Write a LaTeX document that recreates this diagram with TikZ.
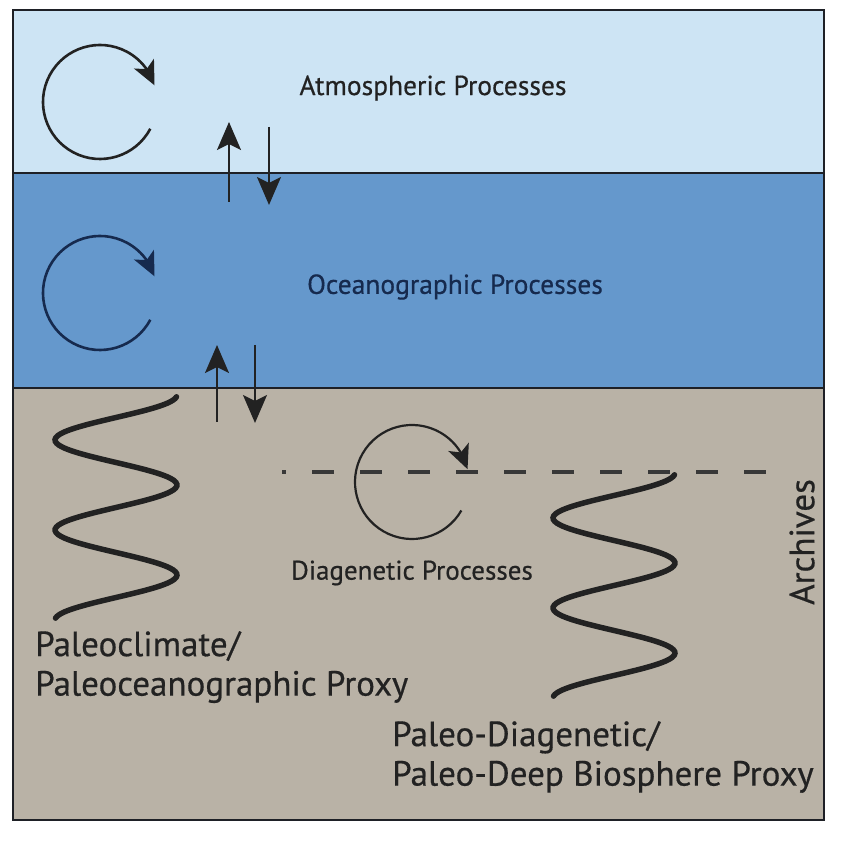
\documentclass[tikz,border=0pt]{standalone}
\usepackage{fontspec}
\setmainfont{PT Sans}[FakeBold=0.5]
\usetikzlibrary{arrows.meta,bending,positioning}
\definecolor{atmos}{RGB}{205,228,244}
\definecolor{ocean}{RGB}{101,152,204}
\definecolor{sed}{RGB}{185,178,166}
\definecolor{edge}{RGB}{30,32,38}
\definecolor{navy}{RGB}{22,42,78}
\definecolor{ink}{RGB}{34,34,34}

\begin{document}
\begin{tikzpicture}[x=1pt, y=1pt,
  lay/.style={draw=edge, line width=2pt},
  cyc/.style={line width=2.6pt, -{Stealth[length=24pt, width=22pt, inset=6pt]}},
  flux/.style={line width=2pt, -{Stealth[length=28pt, width=24pt, inset=6pt]}},
  wave/.style={ink, line width=5.5pt, line cap=round, smooth, samples=120},
  proc/.style={font=\fontsize{27.5}{32}\selectfont},
  proxy/.style={ink, font=\fontsize{35}{39.5}\selectfont, align=left, inner sep=0pt}]
  \useasboundingbox (0,0) rectangle (847,841);
  \fill [sed] (13,21) rectangle (824,453);
  \fill [ocean] (13,453) rectangle (824,668);
  \fill [atmos] (13,668) rectangle (824,831);
  \draw [lay] (13,453) -- (824,453);
  \draw [lay] (13,668) -- (824,668);
  \draw [edge, line width=2.4pt] (13,21) rectangle (824,831);

  \coordinate (ac) at (100,739);
  \coordinate (oc) at (100,548);
  \coordinate (dc) at (412,359);
  \draw [cyc, ink] ([shift={(-28:57)}]ac) arc [start angle=-28, end angle=-343, radius=57];
  \draw [cyc, navy] ([shift={(-28:57)}]oc) arc [start angle=-28, end angle=-343, radius=57];
  \draw [cyc, ink, line width=2.2pt] ([shift={(-30:57)}]dc) arc [start angle=-30, end angle=-347, radius=57];

  \node (atm) [proc, ink] at (433,753) {Atmospheric Processes};
  \node (oce) [proc, navy] at (455,554) {Oceanographic Processes};
  \node (dia) [proc, ink, font=\fontsize{27}{32}\selectfont, below=75pt of dc] {Diagenetic Processes};

  \coordinate (u1) at (229,639);
  \coordinate [above=80pt of u1] (u1t);
  \coordinate (d1) at (269,714);
  \coordinate [below=78pt of d1] (d1t);
  \coordinate (u2) at (217,419);
  \coordinate [above=77pt of u2] (u2t);
  \coordinate (d2) at (255,496);
  \coordinate [below=78pt of d2] (d2t);
  \draw [flux, ink] (u1) -- (u1t);
  \draw [flux, ink] (d1) -- (d1t);
  \draw [flux, ink] (u2) -- (u2t);
  \draw [flux, ink] (d2) -- (d2t);

  \coordinate (dl) at (282,369);
  \coordinate (dr) at (767,369);
  \draw [ink!90, line width=4pt, dash pattern=on 22pt off 26pt, dash phase=18pt] (dl) -- (dr);

  \draw [wave] plot [domain=0.04:4.96, variable=\t] ({116+61*cos(\t*180)}, {446-45*\t});
  \draw [wave] plot [domain=0.04:4.96, variable=\t] ({614+61*cos(\t*180)}, {368-45*\t});

  \node (pcl) [proxy, anchor=north west] at (35,210) {Paleoclimate/\\Paleoceanographic Proxy};
  \node (pdg) [proxy, anchor=north west] at (392,120) {Paleo-Diagenetic/\\Paleo-Deep Biosphere Proxy};
  \node (arc) [ink, rotate=90, font=\fontsize{35}{40}\selectfont] at (802,299) {Archives};
\end{tikzpicture}
\end{document}
